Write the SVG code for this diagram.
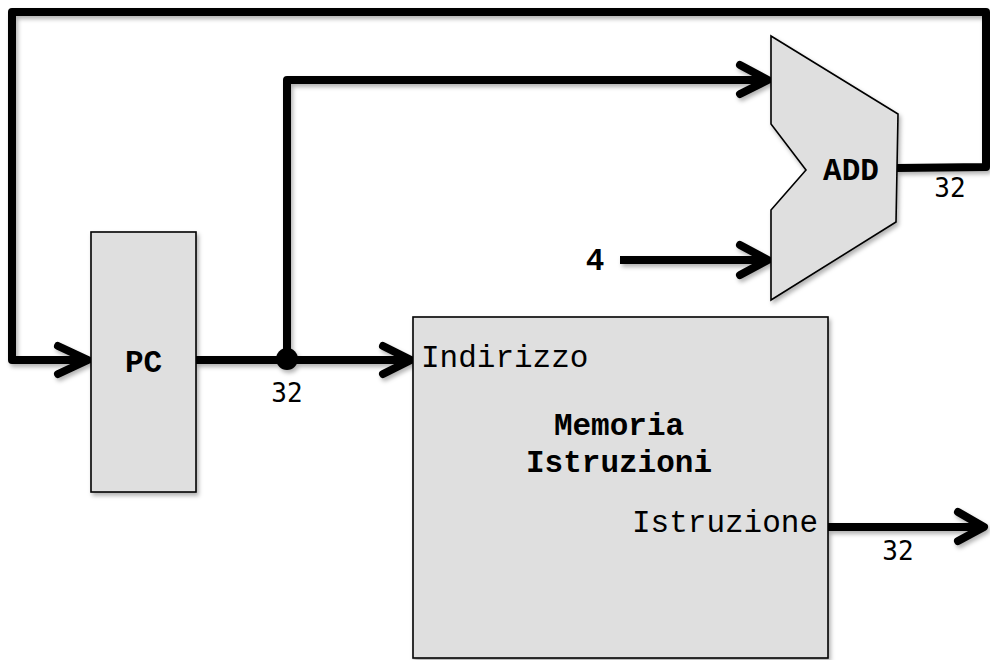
<svg xmlns="http://www.w3.org/2000/svg" width="990" height="660" viewBox="0 0 990 660">
  <defs>
    <filter id="sh" x="-20%" y="-20%" width="140%" height="140%">
      <feDropShadow dx="2" dy="3" stdDeviation="2" flood-color="#000" flood-opacity="0.3"/>
    </filter>
    <style>
      .blk { fill: #dfdfdf; stroke: #000; stroke-width: 1.6; filter: url(#sh); }
      .wire { fill: none; stroke: #000; stroke-width: 8; stroke-linejoin: round; stroke-linecap: butt; }
      .head { fill: none; stroke: #000; stroke-width: 8; stroke-linejoin: round; stroke-linecap: round; }
      .lbl { font-family: "Courier New", "Liberation Mono", monospace; font-size: 31px; fill: #000; }
      .b { font-weight: bold; }
      .num { font-family: "DejaVu Sans Mono", "Liberation Mono", monospace; font-size: 26px; fill: #000; }
    </style>
  </defs>
  <rect width="990" height="660" fill="#fff"/>

  <g id="connectors" filter="url(#sh)">
    <!-- feedback ADD -> PC -->
    <polyline class="wire" points="897,168 986,167 986,12 12,12 12,360 86,360"/>
    <polyline class="head" points="58,346 88,360 58,374"/>
    <!-- PC -> memory -->
    <line class="wire" x1="196" y1="360" x2="409" y2="360"/>
    <polyline class="head" points="383,346 411,360 383,374"/>
    <circle cx="287" cy="359" r="11" fill="#000"/>
    <!-- branch up to ADD -->
    <polyline class="wire" points="287,360 287,80 766,80"/>
    <polyline class="head" points="740,65 768,80 740,94"/>
    <!-- 4 -> ADD -->
    <line class="wire" x1="620" y1="260" x2="766" y2="260"/>
    <polyline class="head" points="740,245 768,260 740,275"/>
    <!-- memory output -->
    <line class="wire" x1="828" y1="527" x2="981" y2="527"/>
    <polyline class="head" points="958,512 984,527 958,541"/>
  </g>

  <g id="pc">
    <rect class="blk" x="91" y="232" width="105" height="260"/>
    <text class="lbl b" x="143.5" y="372" text-anchor="middle">PC</text>
  </g>

  <g id="add">
    <polygon class="blk" points="771,36 898,114 896,222 771,300 771,210 806,170 771,124"/>
    <text class="lbl b" x="851" y="180" text-anchor="middle">ADD</text>
  </g>

  <g id="memoria">
    <rect class="blk" x="413" y="317" width="415" height="341"/>
    <text class="lbl" x="421" y="367">Indirizzo</text>
    <text class="lbl b" x="619" y="435" text-anchor="middle">Memoria</text>
    <text class="lbl b" x="619" y="472" text-anchor="middle">Istruzioni</text>
    <text class="lbl" x="818" y="532" text-anchor="end">Istruzione</text>
  </g>

  <g id="labels">
    <text class="lbl b" x="595" y="270" text-anchor="middle">4</text>
    <text class="num" x="287" y="402" text-anchor="middle">32</text>
    <text class="num" x="950" y="197" text-anchor="middle">32</text>
    <text class="num" x="898" y="560" text-anchor="middle">32</text>
  </g>
</svg>
